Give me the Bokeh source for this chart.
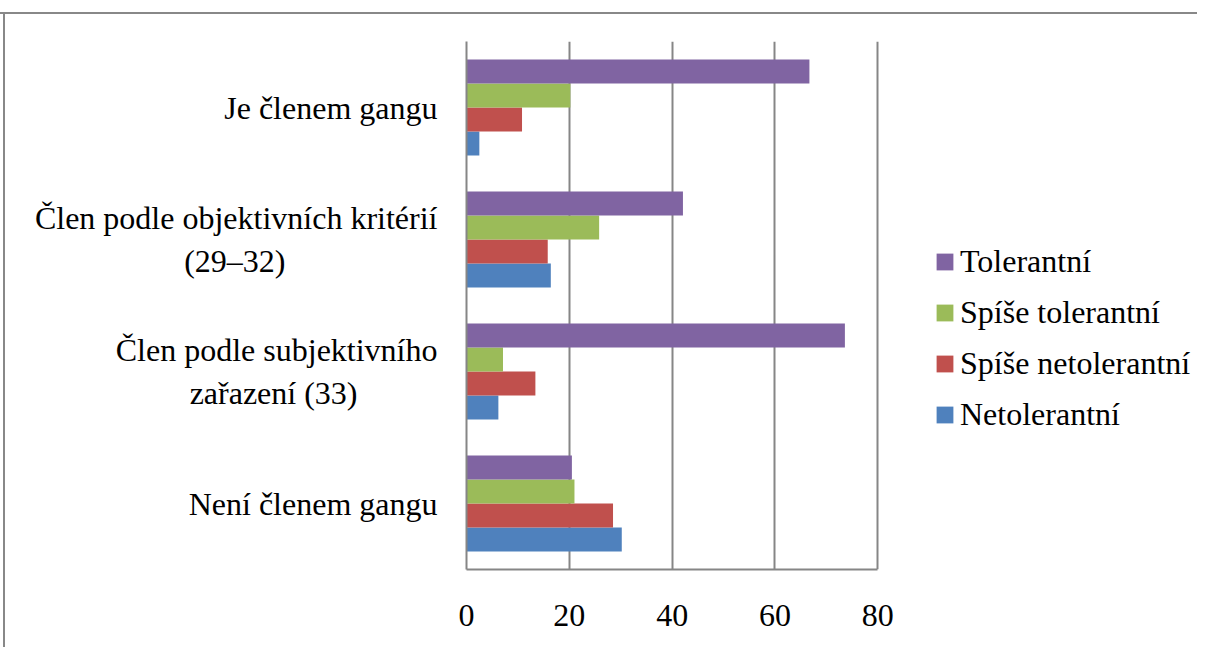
from bokeh.plotting import figure
from bokeh.models import FactorRange, Range1d, Legend, LegendItem, FixedTicker, ColumnDataSource
from bokeh.transform import dodge
from bokeh.embed import file_html
from bokeh.resources import INLINE

NB = "\u00a0"
ZW = "\u200b"
categories = ["Je členem gangu",
              "Člen podle objektivních kritérií\n(29–32)" + NB * 19 + ZW,
              "Člen podle subjektivního\nzařazení (33)" + NB * 10 + ZW,
              "Není členem gangu"]
series = ["Netolerantní", "Spíše netolerantní", "Spíše tolerantní", "Tolerantní"]
netolerantni = [2.5, 16.4, 6.2, 30.2]
spise_netolerantni = [10.8, 15.8, 13.4, 28.5]
spise_tolerantni = [20.2, 25.8, 7.1, 21.0]
tolerantni = [66.7, 42.1, 73.6, 20.5]
x_ticks = [0, 20, 40, 60, 80]

colors = ["#4F81BD", "#C0504D", "#9BBB59", "#8064A2"]
FONT = "Liberation Serif"
GRAY = "#868686"

src = ColumnDataSource(dict(cat=categories, s0=netolerantni, s1=spise_netolerantni,
                            s2=spise_tolerantni, s3=tolerantni))

# frame extends to the right edge so the legend (drawn inside the frame) is not clipped;
# the value axis is bounded to 0..80
x_end = 80 * (1197 - 466) / 411.3
p = figure(width=1197, height=647, output_backend="svg", toolbar_location=None,
           y_range=FactorRange(factors=list(reversed(categories))),
           x_range=Range1d(0, x_end),
           min_border_left=466, min_border_right=0, min_border_top=41, min_border_bottom=78)
p.border_fill_color = None
p.background_fill_color = None
p.styles = {
    "background": ("linear-gradient(#888888,#888888) 0px 12px / 100% 2px no-repeat, "
                   "linear-gradient(#888888,#888888) 3px 12px / 2px 100% no-repeat, #ffffff"),
}

bar_h = 24 / 132
offsets = [-1.5 * bar_h, -0.5 * bar_h, 0.5 * bar_h, 1.5 * bar_h]
renderers = []
for i, col in enumerate(["s0", "s1", "s2", "s3"]):
    r = p.hbar(y=dodge("cat", offsets[i], range=p.y_range), left=0, right=col, height=bar_h,
               source=src, fill_color=colors[i], line_color=None)
    renderers.append(r)

p.outline_line_color = None
p.ygrid.grid_line_color = None
p.xgrid.grid_line_color = GRAY
p.xgrid.grid_line_width = 2
p.xaxis.ticker = FixedTicker(ticks=x_ticks)
p.xgrid.ticker = FixedTicker(ticks=x_ticks)
p.xaxis.bounds = (0, 80)

for ax in (p.xaxis[0], p.yaxis[0]):
    ax.axis_line_color = GRAY
    ax.axis_line_width = 2
    ax.major_tick_line_color = None
    ax.minor_tick_line_color = None
    ax.major_label_text_font = FONT
    ax.major_label_text_font_size = "32px"
    ax.major_label_text_color = "#000000"
p.xaxis.major_label_standoff = 29
p.yaxis.major_label_standoff = 23

legend = Legend(items=[LegendItem(label=series[i], renderers=[renderers[i]]) for i in [3, 2, 1, 0]],
                location=(468, 136), padding=0, margin=0, border_line_color=None,
                background_fill_alpha=0, glyph_width=21, glyph_height=21, label_standoff=5,
                spacing=14, label_text_font=FONT, label_text_font_size="32px",
                label_text_color="#000000")
p.add_layout(legend)

open("out.html", "w").write(file_html(p, INLINE))
